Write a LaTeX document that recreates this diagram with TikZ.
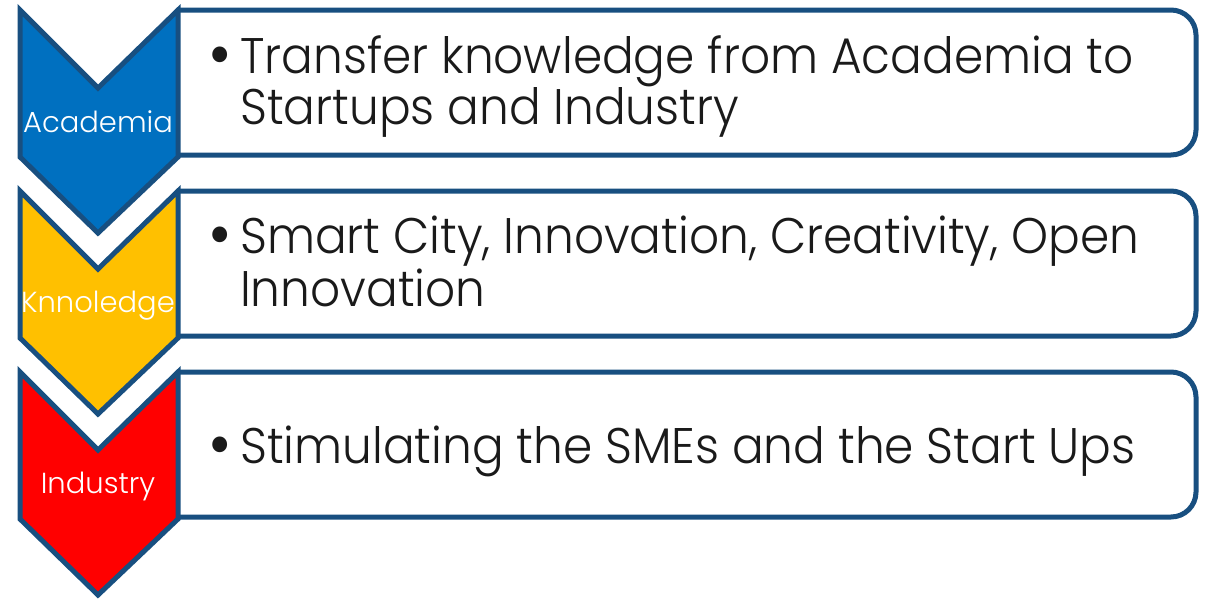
\documentclass[tikz,border=0pt]{standalone}
\usepackage{fontspec}
\setmainfont{Poppins}[UprightFont=* Light, FakeStretch=0.94]
\newfontfamily\labfont{Poppins}[UprightFont=* Light]
\definecolor{edge}{RGB}{24,79,128}
\definecolor{cblue}{RGB}{0,112,192}
\definecolor{cyellow}{RGB}{255,192,0}
\definecolor{cred}{RGB}{255,0,0}
\definecolor{ink}{RGB}{26,26,26}
\tikzset{
  chev/.style={draw=edge, line width=5pt, line join=miter},
  tbox/.style={draw=edge, fill=white, line width=5pt, rounded corners=25pt},
  lab/.style={text=white, inner sep=0pt, anchor=base, font=\labfont\fontsize{29}{29}\selectfont},
  txt/.style={text=ink, inner sep=0pt, anchor=base west, font=\fontsize{50}{50}\selectfont},
  bul/.style={text=ink, inner sep=0pt, anchor=base, font=\fontsize{68}{68}\selectfont}
}
\begin{document}
\begin{tikzpicture}[x=1pt,y=-1pt]
\useasboundingbox (0,0) rectangle (1205,598);
% boxes
\foreach \T in {10,191,372}{
  \filldraw[tbox] (178,\T) -- (1196,\T) -- (1196,\T+145) -- (178,\T+145);
}
% chevrons
\foreach \T/\c in {10/cblue,191/cyellow,372/cred}{
  \filldraw[chev, fill=\c] (20,\T) -- (98,\T+78) -- (178,\T) -- (178,\T+147) -- (98,\T+223) -- (20,\T+147) -- cycle;
}
\node[lab] (l1) at (98,132) {Academia};
\node[lab] (l2) at (98,312) {Knnoledge};
\node[lab] (l3) at (98,493) {Industry};
\node[bul] (b1) at (220,77) {•};
\node[txt] (t1a) at (240,73) {Transfer knowledge from Academia to};
\node[txt] (t1b) at (240,124) {Startups and Industry};
\node[bul] (b2) at (220,257) {•};
\node[txt] (t2a) at (240,253) {Smart City, Innovation, Creativity, Open};
\node[txt] (t2b) at (240,306) {Innovation};
\node[bul] (b3) at (220,467) {•};
\node[txt] (t3a) at (240,463) {Stimulating the SMEs and the Start Ups};
\end{tikzpicture}
\end{document}
